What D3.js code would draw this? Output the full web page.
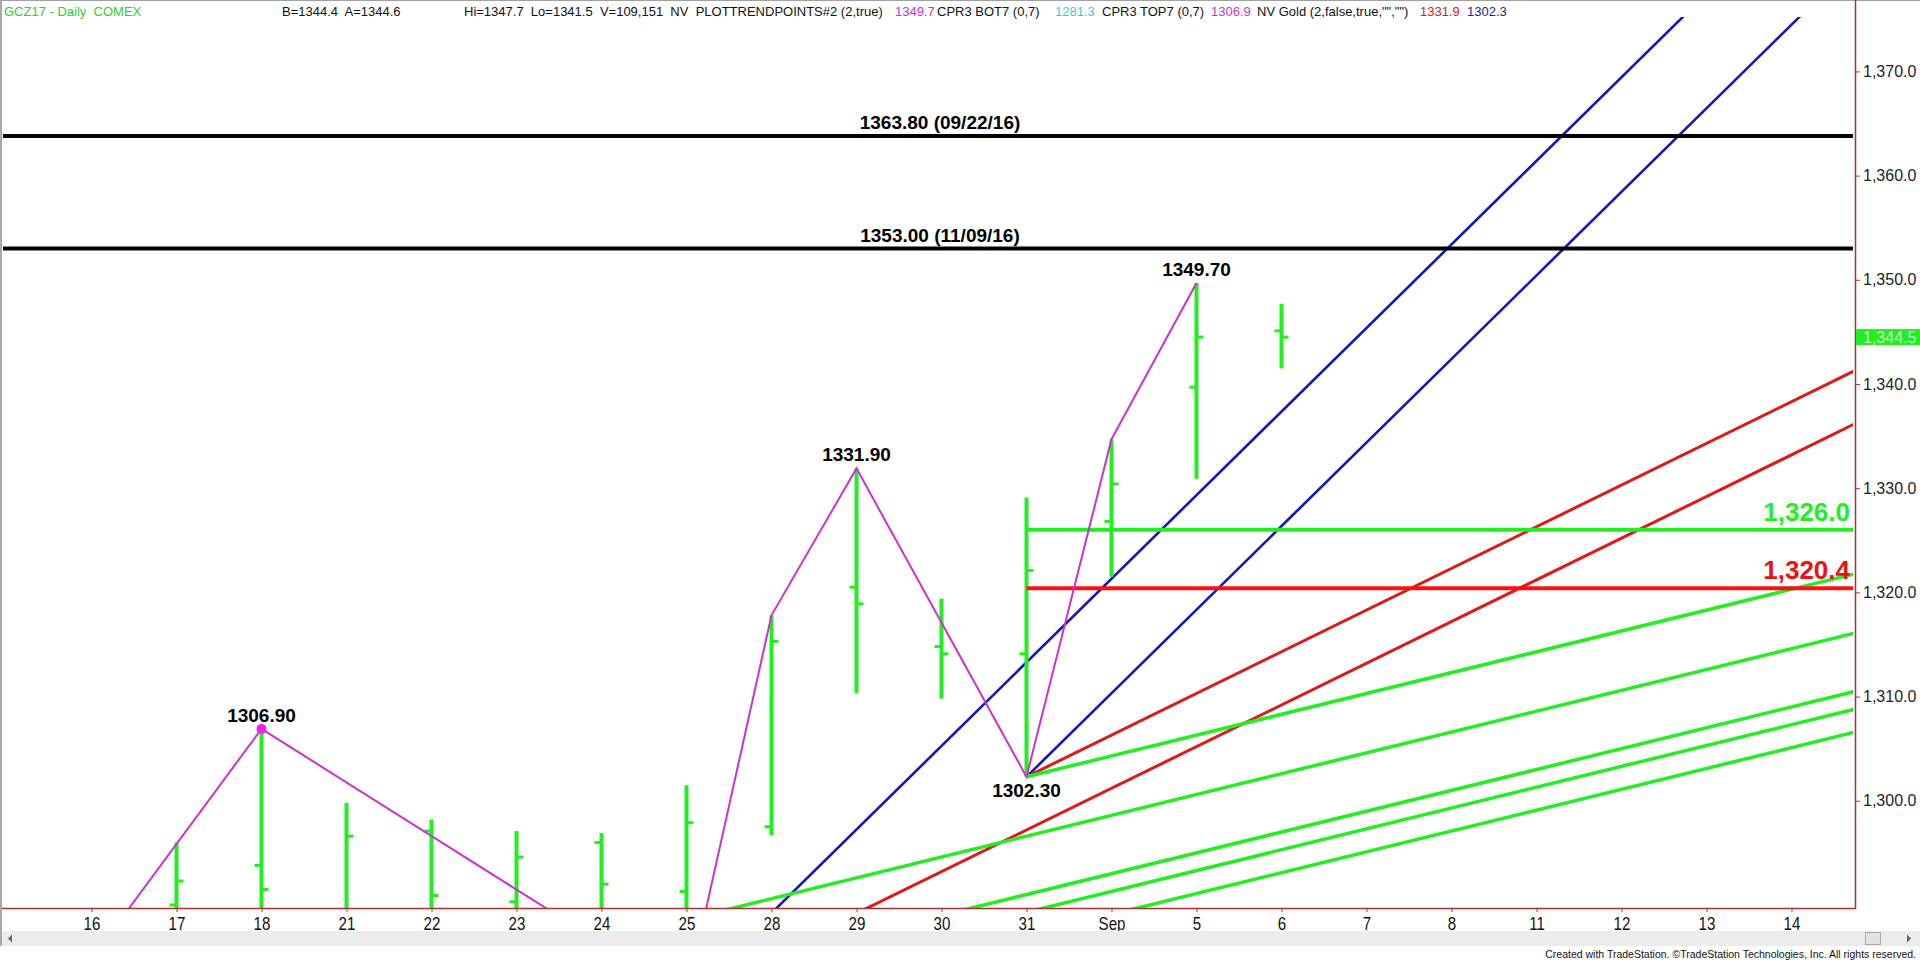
<!DOCTYPE html>
<html><head><meta charset="utf-8">
<script src="https://cdn.jsdelivr.net/npm/d3@7"></script>
<style>
html,body{margin:0;padding:0;background:#fff;overflow:hidden}
svg{display:block}
</style></head><body>
<svg id="chart" width="1920" height="964"></svg>
<script>
// ---------- DATA ----------
const dates  = ["16","17","18","21","22","23","24","25","28","29","30","31","Sep","5","6","7","8","11","12","13","14"];
const opens  = [null,1290.0,1293.8,1289.0,1297.1,1290.3,1296.0,1291.3,1297.5,1320.5,1314.8,1314.1,1326.8,1339.7,1345.1];
const highs  = [null,1296.0,1306.9,1299.8,1298.2,1297.1,1296.9,1301.5,1317.8,1331.9,1319.4,1329.1,1334.7,1349.7,1347.7];
const lows   = [null,1288.0,1288.0,1288.5,1288.8,1288.9,1289.0,1281.2,1296.7,1310.3,1309.8,1302.3,1321.5,1330.9,1341.5];
const closes = [null,1292.3,1291.5,1296.6,1290.9,1294.6,1292.0,1297.9,1315.3,1318.9,1314.1,1322.1,1330.4,1344.5,1344.5];

const yTicks = [1300,1310,1320,1330,1340,1350,1360,1370];
const lastPrice = 1344.5;

// zig-zag trend points (bar index, price)
const pivotIdx = [0, 2, 7, 8, 9, 11, 12, 13];
const pivotVal = [1284.8, 1306.9, 1281.2, 1317.8, 1331.9, 1302.3, 1334.7, 1349.7];
const pivotDotIdx = [2];
const pivotDotVal = [1306.9];

// labelled swing points
const swingIdx   = [2, 9, 11, 13];
const swingVal   = [1306.9, 1331.9, 1302.3, 1349.7];
const swingText  = ["1306.90","1331.90","1302.30","1349.70"];
const swingAbove = [true, true, false, true];

// old resistance levels
const resistVal  = [1363.8, 1353.0];
const resistText = ["1363.80 (09/22/16)", "1353.00 (11/09/16)"];

// levels drawn from the 31 low
const levelStart = 11;
const levelVal   = [1326.0, 1320.4];
const levelText  = ["1,326.0", "1,320.4"];

// angle lines: [startIdx, startPrice, endIdx, endPrice]
const blueLines  = [[7,1281.2,21,1393.5],[11,1302.3,21,1382.5]];
const redLines   = [[7,1281.2,21,1337.2],[11,1302.3,21,1342.3]];
const greenLines = [[11,1302.3,21,1322.3],[7,1288.6,21,1316.6],[7,1283.0,21,1311.0],[7,1281.3,21,1309.3],[7,1279.1,21,1307.1]];

// header
const headerParts = [
  {t:"GCZ17 - Daily  COMEX", x:4, c:"#33cc33"},
  {t:"B=1344.4  A=1344.6", x:282, c:"#111"},
  {t:"Hi=1347.7  Lo=1341.5  V=109,151  NV  PLOTTRENDPOINTS#2 (2,true)", x:464, c:"#111"},
  {t:"1349.7", x:895, c:"#cc33cc"},
  {t:"CPR3 BOT7 (0,7)", x:937, c:"#111"},
  {t:"1281.3", x:1055, c:"#33cccc"},
  {t:"CPR3 TOP7 (0,7)", x:1102, c:"#111"},
  {t:"1306.9", x:1211, c:"#cc33cc"},
  {t:"NV Gold (2,false,true,\"\",\"\")", x:1257, c:"#111"},
  {t:"1331.9", x:1420, c:"#cc2222"},
  {t:"1302.3", x:1467, c:"#222299"}
];
const footerText = "Created with TradeStation. \u00A9TradeStation Technologies, Inc. All rights reserved.";

// ---------- LAYOUT ----------
const W = 1920, H = 964;
const plotL = 3, plotR = 1853, plotT = 17, plotB = 908, axisX = 1855;
const GREEN = "#22ee22", BLUE = "#1515bb", AXIS = "#b03030", MAG = "#cc33cc";
const FONT = "'Liberation Sans', Arial, sans-serif";

const svg = d3.select("#chart");
const x = d3.scaleLinear().domain([0, 20]).range([91.5, 1791.5]);
const y = d3.scaleLinear().domain([1289.71, 1375.22]).range([plotB, plotT]);

// frame
svg.append("rect").attr("x",0).attr("y",0).attr("width",W).attr("height",H).attr("fill","#fff");
svg.append("line").attr("x1",0).attr("x2",W).attr("y1",0.5).attr("y2",0.5).attr("stroke","#a0a0a0");
svg.append("rect").attr("x",0).attr("y",0).attr("width",2).attr("height",946).attr("fill","#a8a8a8");

const defs = svg.append("defs");
defs.append("clipPath").attr("id","plotClip").append("rect")
  .attr("x",plotL).attr("y",plotT).attr("width",plotR-plotL).attr("height",plotB-plotT);
const plot = svg.append("g").attr("clip-path","url(#plotClip)");

// angle lines
function drawLines(arr, color, width){
  plot.append("g").selectAll("line").data(arr).join("line")
    .attr("x1",d=>x(d[0])).attr("y1",d=>y(d[1]))
    .attr("x2",d=>x(d[2])).attr("y2",d=>y(d[3]))
    .attr("stroke",color).attr("stroke-width",width);
}
drawLines(blueLines, BLUE, 2.6);
drawLines(redLines, "#dd1a1a", 3);
drawLines(greenLines, GREEN, 3.5);

// OHLC bars
const bars = d3.range(highs.length).filter(i => highs[i] != null).map(i => ({i, o:opens[i], h:highs[i], l:lows[i], c:closes[i]}));
const bg = plot.append("g");
bg.selectAll("line.hl").data(bars).join("line").attr("class","hl")
  .attr("x1",d=>x(d.i)).attr("x2",d=>x(d.i)).attr("y1",d=>y(d.h)).attr("y2",d=>y(d.l))
  .attr("stroke",GREEN).attr("stroke-width",4);
bg.selectAll("line.o").data(bars).join("line").attr("class","o")
  .attr("x1",d=>x(d.i)-7).attr("x2",d=>x(d.i)).attr("y1",d=>y(d.o)).attr("y2",d=>y(d.o))
  .attr("stroke",GREEN).attr("stroke-width",3);
bg.selectAll("line.c").data(bars).join("line").attr("class","c")
  .attr("x1",d=>x(d.i)).attr("x2",d=>x(d.i)+7).attr("y1",d=>y(d.c)).attr("y2",d=>y(d.c))
  .attr("stroke",GREEN).attr("stroke-width",3);

// horizontal levels from the 31 low
plot.append("g").selectAll("line").data(levelVal).join("line")
  .attr("x1",x(levelStart)).attr("x2",plotR).attr("y1",d=>y(d)).attr("y2",d=>y(d))
  .attr("stroke",(d,i)=> i===0 ? GREEN : "#ff1010").attr("stroke-width",4);

// trend zig-zag
const zz = pivotIdx.map((d,i)=>[d, pivotVal[i]]);
plot.append("path").datum(zz)
  .attr("d", d3.line().x(d=>x(d[0])).y(d=>y(d[1])))
  .attr("fill","none").attr("stroke",MAG).attr("stroke-width",2);
plot.selectAll("circle.pd").data(pivotDotIdx).join("circle").attr("class","pd")
  .attr("cx",d=>x(d)).attr("cy",(d,i)=>y(pivotDotVal[i])).attr("r",5).attr("fill","#ee22ee");

// resistance lines
plot.append("g").selectAll("line").data(resistVal).join("line")
  .attr("x1",plotL).attr("x2",plotR).attr("y1",d=>y(d)).attr("y2",d=>y(d))
  .attr("stroke","#000").attr("stroke-width",4);
svg.append("g").selectAll("text").data(resistVal).join("text")
  .attr("x",940).attr("y",d=>y(d)-7).attr("text-anchor","middle")
  .attr("font-family",FONT).attr("font-weight","bold").attr("font-size",19).attr("fill","#000")
  .text((d,i)=>resistText[i]);

// level labels
svg.append("g").selectAll("text").data(levelVal).join("text")
  .attr("x",1850).attr("y",d=>y(d)-9).attr("text-anchor","end")
  .attr("font-family",FONT).attr("font-weight","bold").attr("font-size",26)
  .attr("fill",(d,i)=> i===0 ? GREEN : "#ee1111")
  .text((d,i)=>levelText[i]);

// swing labels
svg.append("g").selectAll("text").data(swingIdx).join("text")
  .attr("x",d=>x(d)).attr("y",(d,i)=> swingAbove[i] ? y(swingVal[i])-7 : y(swingVal[i])+20)
  .attr("text-anchor","middle").attr("font-family",FONT).attr("font-weight","bold").attr("font-size",19).attr("fill","#000")
  .text((d,i)=>swingText[i]);

// axes
const yAxis = d3.axisRight(y).tickValues(yTicks).tickFormat(d3.format(",.1f")).tickSize(5).tickPadding(3);
const ga = svg.append("g").attr("transform",`translate(${axisX},0)`).call(yAxis);
ga.select(".domain").remove();
ga.selectAll("line").attr("stroke",AXIS);
ga.selectAll("text").attr("font-family",FONT).attr("font-size",16).attr("fill","#222");

const xAxis = d3.axisBottom(x).tickValues(d3.range(dates.length)).tickFormat(i=>dates[i]).tickSize(4).tickPadding(5);
const gx = svg.append("g").attr("transform",`translate(0,${plotB})`).call(xAxis);
gx.select(".domain").remove();
gx.selectAll("line").attr("stroke",AXIS);
gx.selectAll("text").attr("font-family",FONT).attr("font-size",18).attr("fill","#111")
  .attr("transform","scale(0.84,1)");

svg.append("line").attr("x1",axisX+0.5).attr("x2",axisX+0.5).attr("y1",0).attr("y2",plotB+1).attr("stroke",AXIS).attr("stroke-width",1.5);
svg.append("line").attr("x1",2).attr("x2",axisX+1).attr("y1",plotB+0.5).attr("y2",plotB+0.5).attr("stroke",AXIS).attr("stroke-width",1.5);

// last price marker
svg.append("rect").attr("x",axisX+1).attr("y",y(lastPrice)-8).attr("width",W-axisX-1).attr("height",16).attr("fill",GREEN);
svg.append("text").attr("x",axisX+8).attr("y",y(lastPrice)).attr("dy","0.35em")
  .attr("font-family",FONT).attr("font-size",16).attr("fill","#c8ffc8").text(d3.format(",.1f")(lastPrice));

// header
svg.append("g").selectAll("text").data(headerParts).join("text")
  .attr("x",d=>d.x).attr("y",16).attr("font-family",FONT).attr("font-size",13).attr("fill",d=>d.c)
  .attr("xml:space","preserve").style("white-space","pre").text(d=>d.t);

// scrollbar strip
svg.append("rect").attr("x",2).attr("y",931).attr("width",W-2).attr("height",15).attr("fill","#ececec");
svg.append("path").attr("d","M12,934.5 L8,938.5 L12,942.5 Z").attr("fill","#666");
svg.append("rect").attr("x",1865.5).attr("y",932.5).attr("width",15).attr("height",12).attr("fill","#e2e2e2").attr("stroke","#aaa");
svg.append("path").attr("d","M1907,934.5 L1911,938.5 L1907,942.5 Z").attr("fill","#666");

// footer
svg.append("text").attr("x",1916).attr("y",958).attr("text-anchor","end")
  .attr("font-family",FONT).attr("font-size",10.5).attr("fill","#111").text(footerText);
</script>
</body></html>
